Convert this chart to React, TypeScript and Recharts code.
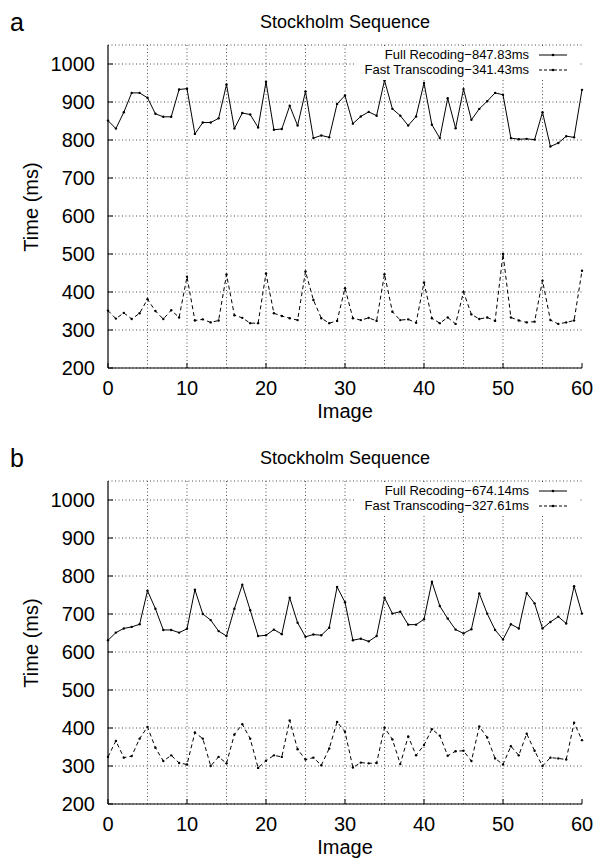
import React from 'react';
import { LineChart, Line, XAxis, YAxis, CartesianGrid } from 'recharts';

const images = [0,1,2,3,4,5,6,7,8,9,10,11,12,13,14,15,16,17,18,19,20,21,22,23,24,25,26,27,28,29,30,31,32,33,34,35,36,37,38,39,40,41,42,43,44,45,46,47,48,49,50,51,52,53,54,55,56,57,58,59,60];

const fullA = [851,830,873,924,924,911,869,861,861,933, 935,816,846,846,857,946,830,871,867,833, 953,827,829,890,838,928,805,812,807,895, 917,843,862,874,864,957,882,864,838,862, 950,840,805,910,831,934,853,882,902,924, 919,805,802,803,801,873,783,792,810,807, 932];
const fastA = [351,330,345,329,344,381,350,329,352,333, 440,325,328,320,325,446,339,332,318,318, 449,344,337,331,326,454,379,331,318,324, 410,331,326,332,324,447,348,326,328,319, 425,331,318,333,316,400,341,329,333,324, 500,333,325,320,322,430,326,316,320,325, 456];
const fullB = [631,651,662,666,673,761,714,658,658,651, 661,764,700,684,655,642,714,777,710,642, 644,659,647,743,677,640,646,644,664,771, 731,631,635,628,642,743,701,706,672,672, 686,785,721,688,659,649,660,754,701,658, 633,673,662,755,728,662,679,693,675,773, 701];
const fastB = [324,366,322,326,372,403,348,313,328,308, 304,388,372,300,324,307,383,410,372,295, 314,328,324,420,344,317,322,302,346,416, 390,296,309,307,308,401,370,305,378,328, 355,397,380,327,339,340,313,404,375,320, 304,352,328,385,340,300,322,320,317,414, 368];

const xTicks = [0, 10, 20, 30, 40, 50, 60];
const yTicks = [200, 300, 400, 500, 600, 700, 800, 900, 1000];
const xGridValues = [5, 10, 15, 20, 25, 30, 35, 40, 45, 50, 55];
const xDomain = [0, 60];
const yDomain = [200, 1050];

const panelTitle = 'Stockholm Sequence';
const xLabel = 'Image';
const yLabel = 'Time (ms)';
const panels = [
  { letter: 'a', full: fullA, fast: fastA, fullName: 'Full Recoding\u2212847.83ms', fastName: 'Fast Transcoding\u2212341.43ms' },
  { letter: 'b', full: fullB, fast: fastB, fullName: 'Full Recoding\u2212674.14ms', fastName: 'Fast Transcoding\u2212327.61ms' },
];

const FONT = "'Liberation Sans', Arial, Helvetica, sans-serif";
const W = 606;
const H = 400;
const M = { top: 45, right: 24, bottom: 2, left: 48 };
const PLOT_LEFT = 108;
const PLOT_RIGHT = 582;
const PLOT_TOP = 45;
const PLOT_BOTTOM = 368;

const gridGen = ({ xAxis, offset }: any) => {
  if (xAxis && typeof xAxis.scale === 'function') {
    return xGridValues.map((v) => xAxis.scale(v));
  }
  return xGridValues.map((v) => offset.left + ((v - xDomain[0]) / (xDomain[1] - xDomain[0])) * offset.width);
};

const axisStyle = { stroke: '#000', strokeWidth: 1.2 };

function LegendSample({ dashed }: { dashed: boolean }) {
  return (
    <svg width={30} height={8} style={{ display: 'block' }}>
      <line x1={1} y1={4} x2={29} y2={4} stroke="#000" strokeWidth={1} strokeDasharray={dashed ? '3 2' : undefined} />
      <circle cx={15} cy={4} r={1.3} fill="#000" />
    </svg>
  );
}

function Panel({ cfg, top }: { cfg: any; top: number }) {
  const data = images.map((img, i) => ({ image: img, full: cfg.full[i], fast: cfg.fast[i] }));
  const midX = (PLOT_LEFT + PLOT_RIGHT) / 2;
  const midY = (PLOT_TOP + PLOT_BOTTOM) / 2;
  return (
    <div style={{ position: 'absolute', left: 0, top, width: W, height: 425, fontFamily: FONT, color: '#000' }}>
      <LineChart width={W} height={H} data={data} margin={M} style={{ fontFamily: FONT }}>
        <CartesianGrid stroke="#222" strokeWidth={0.8} strokeDasharray="1 2.5" verticalCoordinatesGenerator={gridGen} />
        <XAxis dataKey="image" type="number" domain={xDomain} ticks={xTicks} interval={0} height={30}
          tickSize={-5} tickMargin={18} axisLine={axisStyle} tickLine={{ stroke: '#000' }}
          tick={{ fill: '#000', fontSize: 20, fontFamily: FONT }} />
        <XAxis xAxisId="top" orientation="top" type="number" domain={xDomain} ticks={xTicks} interval={0} height={0}
          tickSize={-5} tick={false} axisLine={axisStyle} tickLine={{ stroke: '#000' }} />
        <YAxis type="number" domain={yDomain} ticks={yTicks} interval={0} width={60}
          tickSize={-5} tickMargin={18} axisLine={axisStyle} tickLine={{ stroke: '#000' }}
          tick={{ fill: '#000', fontSize: 20, fontFamily: FONT }} />
        <YAxis yAxisId="right" orientation="right" type="number" domain={yDomain} ticks={yTicks} interval={0} width={0}
          tickSize={-5} tick={false} axisLine={axisStyle} tickLine={{ stroke: '#000' }} />
        <Line type="linear" dataKey="full" stroke="#000" strokeWidth={1} isAnimationActive={false}
          dot={{ r: 1.2, fill: '#000', stroke: 'none' }} activeDot={false} />
        <Line type="linear" dataKey="fast" stroke="#000" strokeWidth={1} strokeDasharray="4 3" isAnimationActive={false}
          dot={{ r: 1.2, fill: '#000', stroke: 'none', strokeDasharray: '0' }} activeDot={false} />
      </LineChart>

      <div style={{ position: 'absolute', left: 10, top: 9, fontSize: 25, lineHeight: '26px' }}>{cfg.letter}</div>
      <div style={{ position: 'absolute', left: midX - 150, width: 300, top: 12, textAlign: 'center', fontSize: 18, lineHeight: '20px' }}>{panelTitle}</div>
      <div style={{ position: 'absolute', left: 31 - 100, top: midY - 11, width: 200, height: 22, lineHeight: '22px', textAlign: 'center', fontSize: 20, transform: 'rotate(-90deg)' }}>{yLabel}</div>
      <div style={{ position: 'absolute', left: midX - 100, width: 200, top: 401, textAlign: 'center', fontSize: 20, lineHeight: '21px' }}>{xLabel}</div>

      <div style={{ position: 'absolute', left: 356, top: 47, width: 224, background: '#fff', padding: '1px 0 3px 0' }}>
        {[{ name: cfg.fullName, dashed: false }, { name: cfg.fastName, dashed: true }].map((r) => (
          <div key={r.name} style={{ display: 'flex', alignItems: 'center', justifyContent: 'flex-end', height: 14.5, fontSize: 13, lineHeight: '14px' }}>
            <span style={{ marginRight: 9 }}>{r.name}</span>
            <div style={{ marginRight: 12 }}><LegendSample dashed={r.dashed} /></div>
          </div>
        ))}
      </div>
    </div>
  );
}

export default function App() {
  return (
    <div style={{ position: 'absolute', left: 0, top: 0, width: W, height: 861, background: '#fff', overflow: 'hidden' }}>
      <Panel cfg={panels[0]} top={0} />
      <Panel cfg={panels[1]} top={436} />
    </div>
  );
}
